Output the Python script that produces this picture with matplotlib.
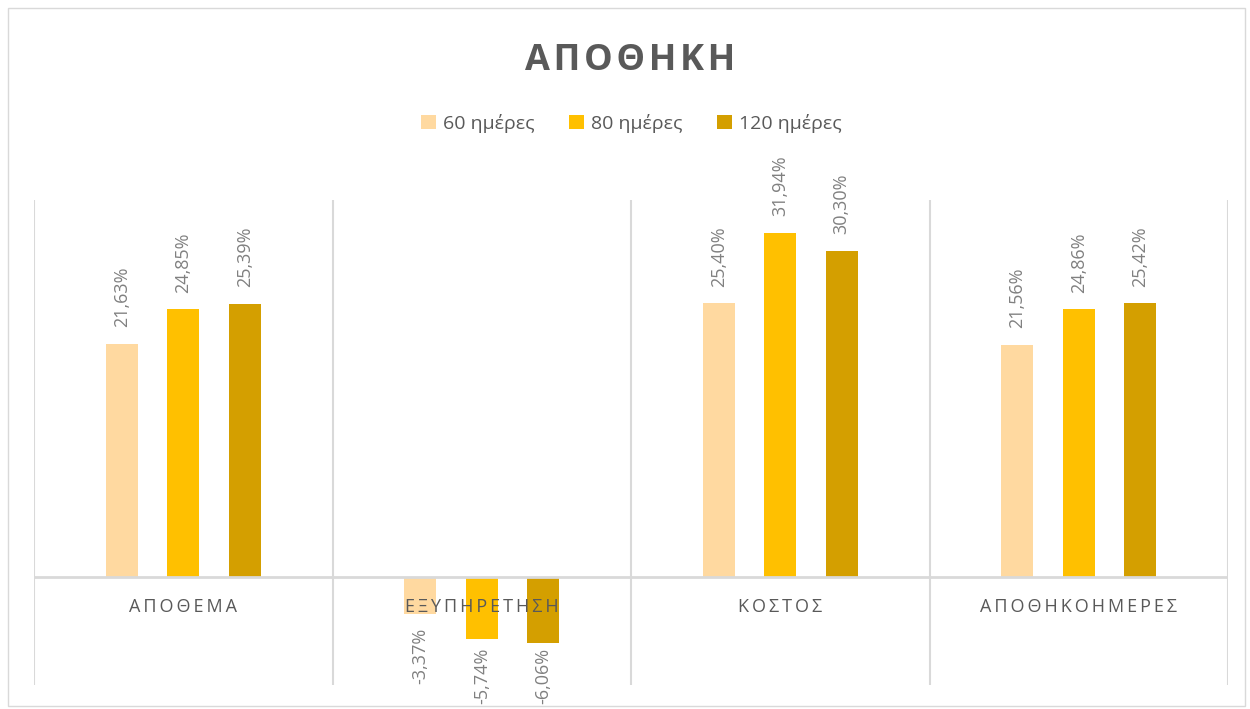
import numpy as np
import matplotlib.pyplot as plt
from matplotlib.patches import Rectangle

plt.rcParams['font.family'] = ['Open Sans', 'DejaVu Sans']

# data
categories = ['ΑΠΟΘΕΜΑ', 'ΕΞΥΠΗΡΕΤΗΣΗ', 'ΚΟΣΤΟΣ', 'ΑΠΟΘΗΚΟΗΜΕΡΕΣ']
series_names = ['60 ημέρες', '80 ημέρες', '120 ημέρες']
values_60 = [21.63, -3.37, 25.40, 21.56]
values_80 = [24.85, -5.74, 31.94, 24.86]
values_120 = [25.39, -6.06, 30.30, 25.42]
colors = ['#FFD9A0', '#FFC000', '#D49F00']

fig = plt.figure(figsize=(12.5, 7.09), dpi=100)
ax = fig.add_axes([0.0272, 0.0339, 0.9552, 0.6840])

x = np.arange(len(categories))
width = 0.107
offsets = [-0.206, 0, 0.206]
all_series = [values_60, values_80, values_120]

neg_labels = []
for vals, off, col, name in zip(all_series, offsets, colors, series_names):
    bars = ax.bar(x + off, vals, width, color=col, label=name, zorder=2)
    for b, v in zip(bars, vals):
        txt = f'{v:.2f}%'.replace('.', ',')
        if v >= 0:
            dy, va = 12, 'bottom'
        else:
            dy, va = -10, 'top'
        t = ax.annotate(txt, (b.get_x() + b.get_width() / 2, v), xytext=(0, dy),
                        textcoords='offset points', rotation=90, ha='center', va=va,
                        fontsize=13, color='#808080', annotation_clip=False, clip_on=False)
        if v < 0:
            neg_labels.append(t)

# category separators and zero line
for xb in np.arange(-0.5, len(categories), 1.0):
    ax.axvline(xb, color='#D9D9D9', lw=1.5, zorder=1)
ax.axhline(0, color='#D9D9D9', lw=2, zorder=3)

# category labels just below the zero line
for xi, cat in zip(x, categories):
    ax.annotate('\u2009'.join(cat), (xi, 0), xytext=(0, -15), textcoords='offset points',
                ha='center', va='top', fontsize=13, color='#595959', zorder=5)

ax.set_xlim(-0.5, len(categories) - 0.5)
ax.set_ylim(-10, 35)
ax.axis('off')

fig.text(0.504, 0.914, '\u200a'.join('ΑΠΟΘΗΚΗ'), ha='center', va='center',
         fontsize=26, fontweight='bold', color='#595959')

fig.legend(loc='center', bbox_to_anchor=(0.505, 0.826), ncol=3, frameon=False,
           fontsize=14, labelcolor='#595959', handlelength=0.75, handleheight=0.75,
           handletextpad=0.35, columnspacing=1.8)

# outer chart border
fig.patches.append(Rectangle((0.006, 0.004), 0.99, 0.985, transform=fig.transFigure,
                             fill=False, edgecolor='#D9D9D9', lw=1))

# push negative labels up so they stay inside the chart (like Excel does)
fig.canvas.draw()
for t in neg_labels:
    bb = t.get_window_extent()
    if bb.y0 < 5:
        ox, oy = t.xyann
        t.xyann = (ox, oy + (5 - bb.y0) * 72 / fig.dpi)

fig.savefig('out.png', dpi=100)
